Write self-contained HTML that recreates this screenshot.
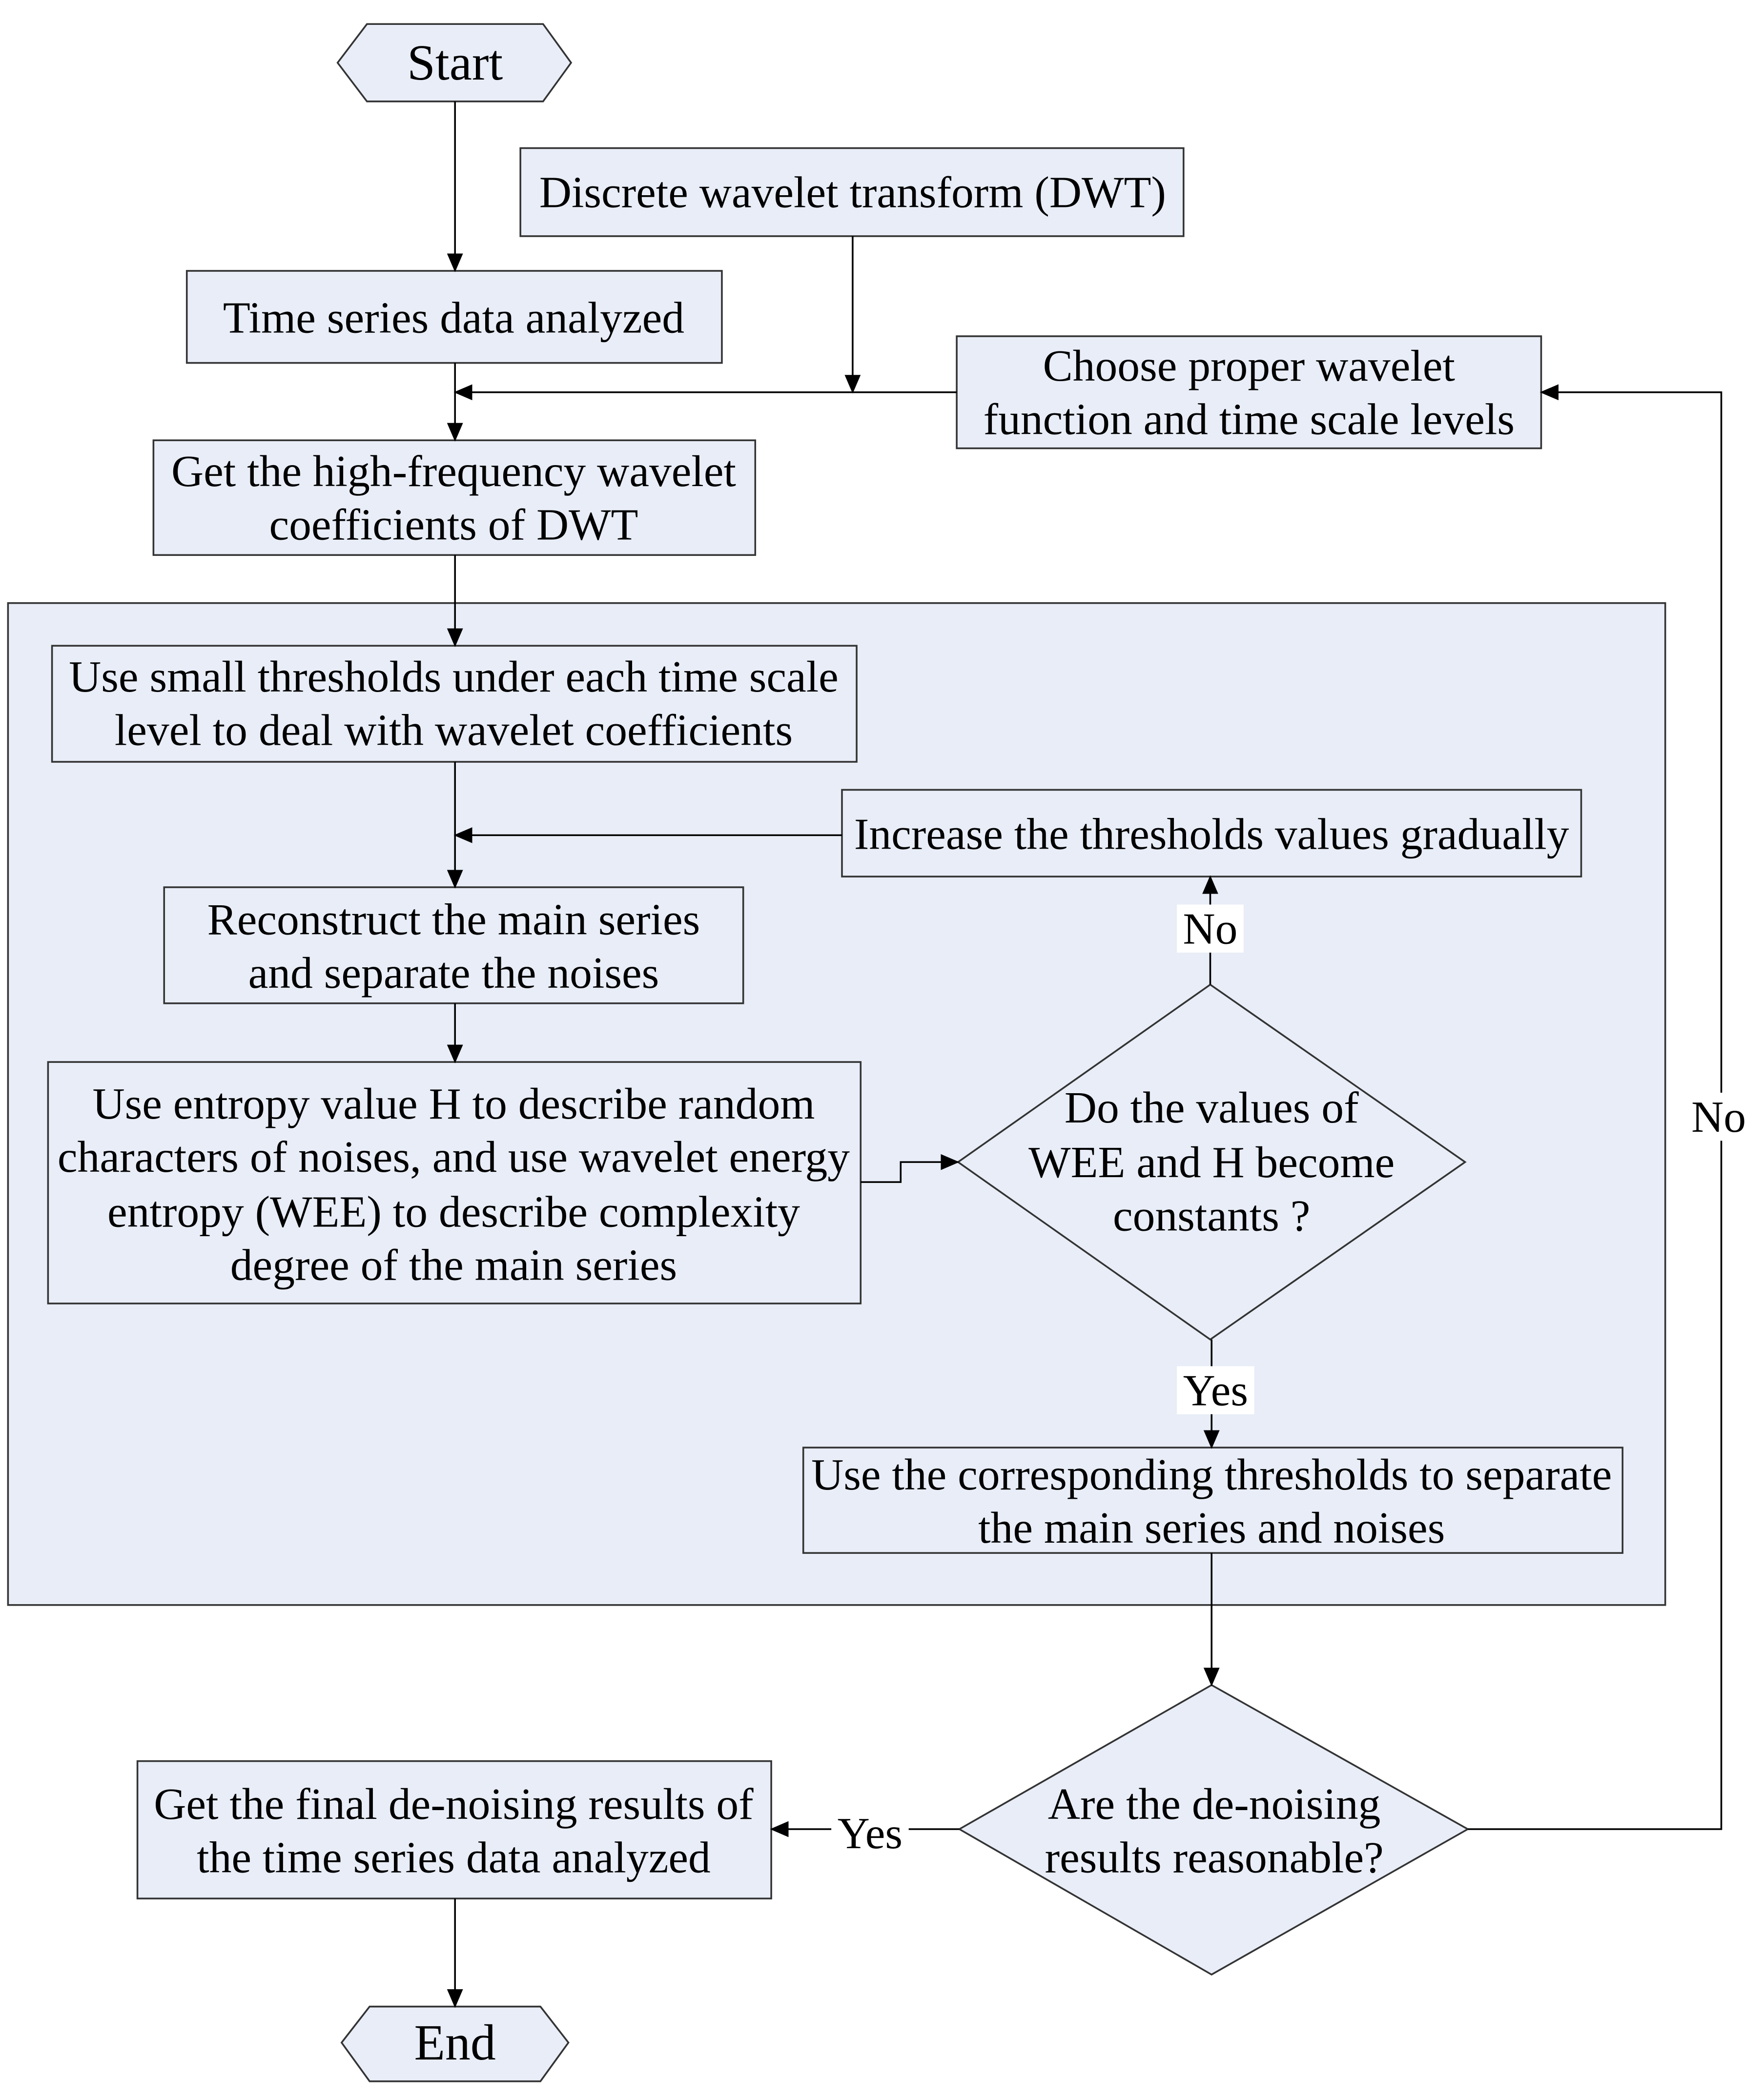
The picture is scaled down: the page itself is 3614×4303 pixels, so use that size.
<!DOCTYPE html>
<html><head><meta charset="utf-8"><style>
html,body{margin:0;padding:0;background:#fff;}
svg{display:block;}
text{font-family:"Liberation Serif",serif;font-size:33.5px;fill:#000;text-anchor:middle;dominant-baseline:central;}
.b{fill:#e8edf7;stroke:#333;stroke-width:1.3;}
.l{fill:none;stroke:#000;stroke-width:1.3;}
</style></head><body>
<svg width="3614" height="4303" viewBox="0 0 1322 1574" xmlns="http://www.w3.org/2000/svg">
<defs>
<marker id="m" markerWidth="14" markerHeight="14" refX="13" refY="7" orient="auto" markerUnits="userSpaceOnUse" viewBox="0 0 14 14"><path d="M0,1 L14,7 L0,13 z" fill="#000"/></marker></defs>
<rect x="0" y="0" width="1322" height="1574" fill="#fff"/>
<rect class="b" x="6" y="452" width="1242" height="751"/>
<polygon class="b" points="253,47 275,18 407,18 428,47 407,76 275,76"/>
<text x="341" y="47" style="font-size:38px">Start</text>
<rect class="b" x="390" y="111" width="497" height="66"/>
<text x="639" y="144">Discrete wavelet transform (DWT)</text>
<rect class="b" x="140" y="203" width="401" height="69"/>
<text x="340" y="238">Time series data analyzed</text>
<rect class="b" x="717" y="252" width="438" height="84"/>
<text x="936" y="274">Choose proper wavelet</text>
<text x="936" y="314">function and time scale levels</text>
<rect class="b" x="115" y="330" width="451" height="86"/>
<text x="340" y="353">Get the high-frequency wavelet</text>
<text x="340" y="393">coefficients of DWT</text>
<rect class="b" x="39" y="484" width="603" height="87"/>
<text x="340" y="507">Use small thresholds under each time scale</text>
<text x="340" y="547">level to deal with wavelet coefficients</text>
<rect class="b" x="631" y="592" width="554" height="65"/>
<text x="908" y="625">Increase the thresholds values gradually</text>
<rect class="b" x="123" y="665" width="434" height="87"/>
<text x="340" y="689">Reconstruct the main series</text>
<text x="340" y="729">and separate the noises</text>
<rect class="b" x="36" y="796" width="609" height="181"/>
<text x="340" y="827">Use entropy value H to describe random</text>
<text x="340" y="867">characters of noises, and use wavelet energy</text>
<text x="340" y="908">entropy (WEE) to describe  complexity</text>
<text x="340" y="948">degree of the main series</text>
<polygon class="b" points="907,738 1098,871 907,1004 718,871"/>
<text x="908" y="830">Do  the values of</text>
<text x="908" y="871">WEE  and H  become</text>
<text x="908" y="911">constants ?</text>
<rect class="b" x="602" y="1085" width="614" height="79"/>
<text x="908" y="1105">Use the corresponding thresholds to separate</text>
<text x="908" y="1145">the main series and noises</text>
<polygon class="b" points="908,1263 1100,1371 908,1480 719,1371"/>
<text x="910" y="1352">Are the de-noising</text>
<text x="910" y="1392">results reasonable?</text>
<rect class="b" x="103" y="1320" width="475" height="103"/>
<text x="340" y="1352">Get the final de-noising results of</text>
<text x="340" y="1392">the time series data analyzed</text>
<polygon class="b" points="256,1531 277,1504 405,1504 426,1531 405,1560 277,1560"/>
<text x="341" y="1531" style="font-size:38px">End</text>
<path class="l" d="M341,76 V203" marker-end="url(#m)"/>
<path class="l" d="M639,177 V294" marker-end="url(#m)"/>
<path class="l" d="M717,294 H341" marker-end="url(#m)"/>
<path class="l" d="M341,272 V330" marker-end="url(#m)"/>
<path class="l" d="M341,416 V484" marker-end="url(#m)"/>
<path class="l" d="M341,571 V665" marker-end="url(#m)"/>
<path class="l" d="M631,626 H341" marker-end="url(#m)"/>
<path class="l" d="M341,752 V796" marker-end="url(#m)"/>
<path class="l" d="M645,886 H675 V871 H718" marker-end="url(#m)"/>
<path class="l" d="M907,738 V657" marker-end="url(#m)"/>
<rect x="882" y="678" width="50" height="36" fill="#fff"/>
<text x="907" y="696">No</text>
<path class="l" d="M908,1004 V1085" marker-end="url(#m)"/>
<rect x="882" y="1024" width="58" height="36" fill="#fff"/>
<text x="911" y="1042">Yes</text>
<path class="l" d="M908,1164 V1263" marker-end="url(#m)"/>
<path class="l" d="M1100,1371 H1290 V294 H1155" marker-end="url(#m)"/>
<rect x="1262" y="819" width="54" height="36" fill="#fff"/>
<text x="1288" y="837">No</text>
<path class="l" d="M719,1371 H578" marker-end="url(#m)"/>
<rect x="623" y="1356" width="58" height="36" fill="#fff"/>
<text x="652" y="1374">Yes</text>
<path class="l" d="M341,1423 V1504" marker-end="url(#m)"/>
</svg>
</body></html>
